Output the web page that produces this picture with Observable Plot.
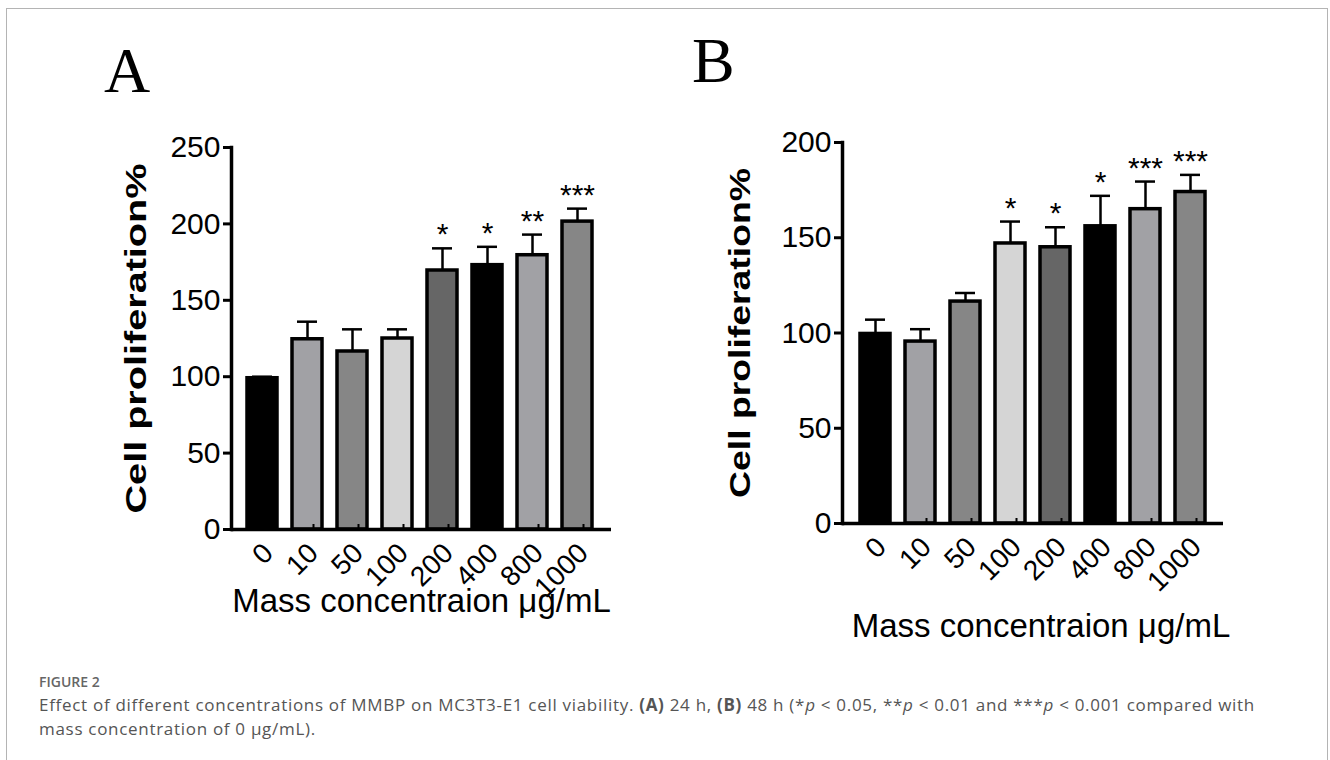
<!DOCTYPE html>
<html><head><meta charset="utf-8">
<script src="https://cdn.jsdelivr.net/npm/d3@7"></script>
<script src="https://cdn.jsdelivr.net/npm/@observablehq/plot@0.6"></script>
<style>
html,body{margin:0;padding:0;background:#fff;}
#fig{position:relative;width:1330px;height:760px;overflow:hidden;background:#fff;font-family:"Liberation Sans",Arial,sans-serif;}
#border{position:absolute;left:6px;top:8px;width:1322px;height:800px;border:1.5px solid #b4b4b4;box-sizing:border-box;}
.panel{position:absolute;top:0;}
.letter{position:absolute;font-family:"Liberation Serif","Times New Roman",serif;font-size:64px;line-height:1;color:#000;}
#capTitle{position:absolute;left:39px;top:672px;font-family:"Open Sans",sans-serif;font-weight:600;font-size:14px;color:#666;}
#capText{position:absolute;left:39px;top:693px;font-family:"Open Sans",sans-serif;font-size:17px;letter-spacing:0.7px;line-height:24px;color:#555;white-space:nowrap;}
</style></head>
<body>
<div id="fig">
  <div id="border"></div>
  <div class="letter" style="left:104px;top:39px;">A</div>
  <div class="letter" style="left:692px;top:29px;">B</div>
  <div class="panel" id="panelA" style="left:0px;"></div>
  <div class="panel" id="panelB" style="left:620px;"></div>
  <div id="capTitle">FIGURE 2</div>
  <div id="capText">Effect of different concentrations of MMBP on MC3T3-E1 cell viability. <b>(A)</b> 24 h, <b>(B)</b> 48 h (*<i>p</i> &lt; 0.05, **<i>p</i> &lt; 0.01 and ***<i>p</i> &lt; 0.001 compared with<br>mass concentration of 0 μg/mL).</div>
</div>
<script>
const concentrations = ["0", "10", "50", "100", "200", "400", "800", "1000"];
const meanA = [99, 124.5, 116.5, 125, 169.5, 173, 179.5, 201.5];
const sdA = [1, 11.5, 14.5, 6, 14.5, 12, 13.5, 8.5];
const sigA = ["", "", "", "", "*", "*", "**", "***"];
const meanB = [99.5, 95.5, 116.5, 147, 145, 156, 165, 174];
const sdB = [7.5, 6.5, 4.5, 11.5, 10.5, 16, 14.5, 9];
const sigB = ["", "", "", "*", "*", "*", "***", "***"];
const yTicksA = [0, 50, 100, 150, 200, 250];
const yTicksB = [0, 50, 100, 150, 200];
const yLabel = "Cell proliferation%";
const xLabel = "Mass concentraion μg/mL";
const barFills = ["#000000", "#a1a1a5", "#868686", "#d5d5d5", "#666666", "#000000", "#a1a1a5", "#868686"];

function rows(mean, sd, sig) {
  return concentrations.map((c, i) => ({c, mean: mean[i], top: mean[i] + sd[i], sig: sig[i], fill: barFills[i]}));
}

function panel(data, cfg) {
  const svg = Plot.plot({
    width: cfg.width, height: cfg.height,
    marginLeft: cfg.ml, marginTop: cfg.mt, marginRight: cfg.mr, marginBottom: cfg.mb,
    style: {fontFamily: "'Liberation Sans', Arial, sans-serif", color: "#000", background: "transparent", overflow: "visible"},
    x: {domain: concentrations, paddingInner: 0.344, paddingOuter: 0.17, insetLeft: cfg.il, insetRight: cfg.ir, label: null},
    y: {domain: [0, cfg.ymax], label: null},
    color: {type: "identity"},
    marks: [
      Plot.ruleX(data, {x: "c", y1: "mean", y2: "top", stroke: "#000", strokeWidth: 2.5}),
      Plot.tickY(data, {x: "c", y: "top", stroke: "#000", strokeWidth: 2.5, insetLeft: 5, insetRight: 5}),
      Plot.barY(data, {x: "c", y: "mean", fill: "fill", stroke: "#000", strokeWidth: 3.5}),
      Plot.text(data, {x: "c", y: "top", text: "sig", dy: -4, lineAnchor: "bottom", fontSize: 30, fill: "#000"}),
      Plot.ruleY([0], {stroke: "#000", strokeWidth: 3.5}),
      Plot.frame({anchor: "left", stroke: "#000", strokeWidth: 3.5}),
      Plot.axisY({ticks: cfg.ticks, tickSize: 8, tickPadding: 3, strokeWidth: 3, fontSize: 30, label: null}),
      Plot.axisX({tickSize: -5, tickPadding: 24, dx: 6, tickRotate: -45, fontSize: 28, strokeWidth: 2, label: null}),
      Plot.text([yLabel], {frameAnchor: "left", textAnchor: "middle", lineAnchor: "middle", rotate: -90, dx: cfg.ylDx, fontSize: 29, fontWeight: "bold", fill: "#000", className: "ylab"}),
      Plot.text([xLabel], {frameAnchor: "bottom", textAnchor: "middle", lineAnchor: "middle", dx: cfg.xlDx, dy: cfg.xlDy, fontSize: 33, fill: "#000"})
    ]
  });
  svg.querySelectorAll(".ylab text").forEach(t => {
    t.setAttribute("textLength", cfg.ylLen);
    t.setAttribute("lengthAdjust", "spacingAndGlyphs");
  });
  return svg;
}

document.getElementById("panelA").appendChild(panel(rows(meanA, sdA, sigA), {
  width: 660, height: 640, ml: 231, mt: 147, mr: 49, mb: 111, il: 5, ir: 9,
  ymax: 250, ticks: yTicksA, ylDx: -95, ylLen: 350, xlDx: 0, xlDy: 72
}));
document.getElementById("panelB").appendChild(panel(rows(meanB, sdB, sigB), {
  width: 700, height: 660, ml: 222, mt: 142, mr: 97, mb: 137, il: 7, ir: 8,
  ymax: 200, ticks: yTicksB, ylDx: -102, ylLen: 330, xlDx: 8, xlDy: 103
}));
</script>
</body></html>
